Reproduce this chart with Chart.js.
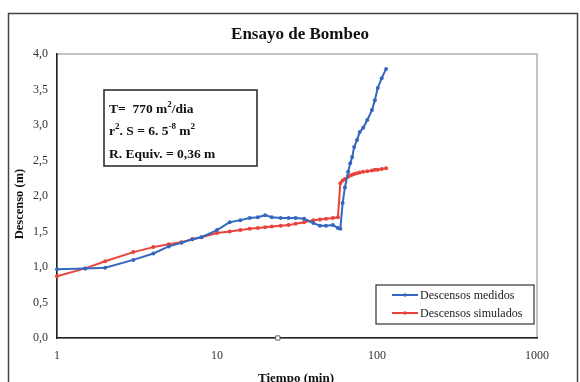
<!DOCTYPE html>
<html>
<head>
<meta charset="utf-8">
<script src="https://cdn.jsdelivr.net/npm/chart.js@4.4.0/dist/chart.umd.min.js"></script>
<style>
  html, body { margin: 0; padding: 0; background: #fff; }
  #wrap { width: 580px; height: 382px; }
</style>
</head>
<body>
<div id="wrap"><canvas id="grafico"></canvas></div>
<script>
// tiempo de bombeo (min) y descensos (m)
const tiempo = [1, 1.5, 2, 3, 4, 5, 6, 7, 8, 10, 12, 14, 16, 18, 20, 22, 25, 28, 31, 35,
  40, 44, 48, 53, 57, 59, 61, 63, 66, 68, 70, 72, 75, 78, 82, 87, 93, 97, 101, 107, 114];
const descMedidos = [0.97, 0.98, 0.99, 1.10, 1.19, 1.29, 1.34, 1.39, 1.42, 1.52, 1.63, 1.66, 1.69, 1.70, 1.73, 1.70, 1.69, 1.69, 1.69, 1.68,
  1.62, 1.58, 1.58, 1.59, 1.55, 1.54, 1.90, 2.12, 2.34, 2.46, 2.55, 2.69, 2.79, 2.90, 2.96, 3.07, 3.21, 3.35, 3.52, 3.66, 3.79];
const descSimulados = [0.87, 0.98, 1.08, 1.21, 1.28, 1.32, 1.35, 1.39, 1.42, 1.48, 1.50, 1.52, 1.54, 1.55, 1.56, 1.57, 1.58, 1.59, 1.61, 1.63,
  1.66, 1.67, 1.68, 1.69, 1.70, 2.18, 2.22, 2.24, 2.27, 2.29, 2.30, 2.31, 2.32, 2.33, 2.34, 2.35, 2.36, 2.37, 2.37, 2.38, 2.39];
const etiquetas = ["Descensos medidos", "Descensos simulados"];
const marcaX = [24];
const marcaY = [0];
const ticksX = [1, 10, 100, 1000];

const azul = "#3567c0";
const rojo = "#e8433b";
const serif = "'Liberation Serif', 'Times New Roman', serif";

// recuadro exterior, borde del area de trazado y rotulos
const marco = {
  id: "marco",
  beforeDraw(chart) {
    const c = chart.ctx, a = chart.chartArea;
    c.save();
    c.strokeStyle = "#444";
    c.lineWidth = 1.5;
    c.strokeRect(8.5, 13.5, 569, 400);
    c.strokeStyle = "#888";
    c.lineWidth = 1;
    c.strokeRect(a.left, a.top, a.right - a.left, a.bottom - a.top);

    c.fillStyle = "#111";
    c.textAlign = "center";
    c.textBaseline = "alphabetic";
    c.font = "bold 17px " + serif;
    c.fillText("Ensayo de Bombeo", 300, 39);
    c.font = "bold 13px " + serif;
    c.fillText("Tiempo (min)", 296, 382);
    c.translate(23, 204);
    c.rotate(-Math.PI / 2);
    c.font = "bold 12.5px " + serif;
    c.fillText("Descenso (m)", 0, 0);
    c.restore();
  }
};

function textoSup(c, x, y, partes, size) {
  partes.forEach(p => {
    if (p.sup) {
      c.font = "bold " + Math.round(size * 0.65) + "px " + serif;
      c.fillText(p.t, x, y - size * 0.42);
    } else {
      c.font = "bold " + size + "px " + serif;
      c.fillText(p.t, x, y);
    }
    x += c.measureText(p.t).width;
  });
}

// cuadro con los parametros del acuifero
const parametros = {
  id: "parametros",
  afterDraw(chart) {
    const c = chart.ctx;
    c.save();
    c.fillStyle = "#fff";
    c.fillRect(104, 90, 153, 76);
    c.strokeStyle = "#222";
    c.lineWidth = 1.5;
    c.strokeRect(104, 90, 153, 76);
    c.fillStyle = "#111";
    c.textBaseline = "alphabetic";
    textoSup(c, 109, 113, [{t: "T=  770 m"}, {t: "2", sup: true}, {t: "/dia"}], 13.5);
    textoSup(c, 109, 135, [{t: "r"}, {t: "2", sup: true}, {t: ". S = 6. 5"}, {t: "-8", sup: true}, {t: " m"}, {t: "2", sup: true}], 13.5);
    textoSup(c, 109, 158, [{t: "R. Equiv. = 0,36 m"}], 13.5);
    c.restore();
  }
};

// leyenda dentro del area de trazado
const leyenda = {
  id: "leyenda",
  afterDraw(chart) {
    const c = chart.ctx;
    c.save();
    c.fillStyle = "#fff";
    c.fillRect(376, 285, 158, 39);
    c.strokeStyle = "#333";
    c.lineWidth = 1.2;
    c.strokeRect(376, 285, 158, 39);
    const filas = [295, 313];
    chart.data.datasets.slice(0, 2).forEach((ds, i) => {
      const y = filas[i];
      c.strokeStyle = ds.borderColor;
      c.lineWidth = 2;
      c.beginPath();
      c.moveTo(392, y);
      c.lineTo(418, y);
      c.stroke();
      c.fillStyle = ds.borderColor;
      c.beginPath();
      c.arc(405, y, 1.8, 0, Math.PI * 2);
      c.fill();
      c.fillStyle = "#222";
      c.font = "12px " + serif;
      c.textBaseline = "middle";
      c.fillText(ds.label, 420, y + 1);
    });
    c.restore();
  }
};

new Chart(document.getElementById("grafico"), {
  type: "line",
  data: {
    datasets: [{
      label: etiquetas[0],
      data: tiempo.map((t, i) => ({x: t, y: descMedidos[i]})),
      borderColor: azul,
      backgroundColor: azul,
      borderWidth: 2,
      pointRadius: 2,
      pointBorderWidth: 0,
      tension: 0
    }, {
      label: etiquetas[1],
      data: tiempo.map((t, i) => ({x: t, y: descSimulados[i]})),
      borderColor: rojo,
      backgroundColor: rojo,
      borderWidth: 2,
      pointRadius: 2,
      pointBorderWidth: 0,
      tension: 0
    }, {
      label: "",
      data: marcaX.map((t, i) => ({x: t, y: marcaY[i]})),
      showLine: false,
      pointStyle: "rect",
      pointRadius: 3,
      borderColor: "#666",
      backgroundColor: "#fff",
      borderWidth: 1
    }]
  },
  options: {
    responsive: true,
    maintainAspectRatio: false,
    animation: false,
    clip: false,
    layout: {padding: {left: 0, right: 43, top: 54, bottom: 0}},
    plugins: {
      legend: {display: false},
      tooltip: {enabled: false},
      title: {display: false}
    },
    scales: {
      x: {
        type: "logarithmic",
        min: 1,
        max: 1000,
        afterBuildTicks: s => { s.ticks = ticksX.map(v => ({value: v})); },
        afterFit: s => { s.height = 44; },
        grid: {display: false, drawTicks: true, tickLength: 4, color: "#222"},
        border: {display: true, color: "#222", width: 1.5},
        ticks: {
          color: "#333",
          font: {family: serif, size: 12},
          padding: 7,
          maxRotation: 0,
          callback: v => String(v)
        }
      },
      y: {
        min: 0,
        max: 4,
        afterFit: s => { s.width = 57; },
        grid: {display: false, drawTicks: true, tickLength: 5, color: "#222"},
        border: {display: true, color: "#222", width: 1.5},
        ticks: {
          stepSize: 0.5,
          color: "#333",
          font: {family: serif, size: 12},
          padding: 4,
          callback: v => v.toFixed(1).replace(".", ",")
        }
      }
    }
  },
  plugins: [marco, parametros, leyenda]
});
</script>
</body>
</html>
